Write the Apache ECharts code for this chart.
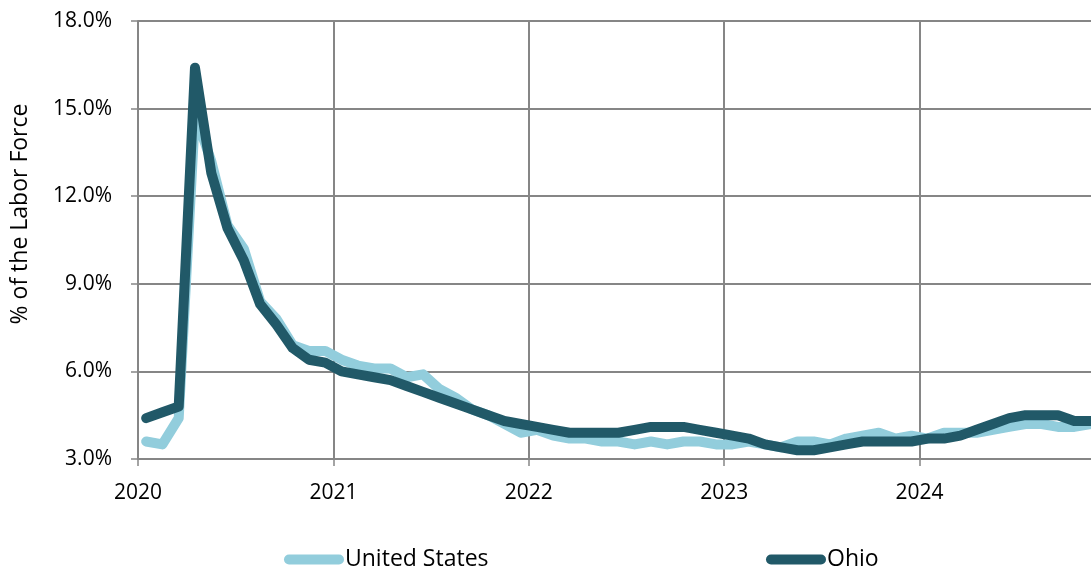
<!DOCTYPE html>
<html>
<head>
<meta charset="utf-8">
<script src="https://cdn.jsdelivr.net/npm/echarts@6/dist/echarts.min.js"></script>
<style>
  html, body { margin: 0; padding: 0; background: #fff; overflow: hidden; }
  /* the plot runs past the right side of the view, through the end of 2024 */
  #chart { width: 1118px; height: 572px; }
</style>
</head>
<body>
<div id="chart"></div>
<script>
// Monthly unemployment rate, January 2020 onward (% of the labor force)
const months = [
  '2020-01','2020-02','2020-03','2020-04','2020-05','2020-06','2020-07','2020-08','2020-09','2020-10','2020-11','2020-12',
  '2021-01','2021-02','2021-03','2021-04','2021-05','2021-06','2021-07','2021-08','2021-09','2021-10','2021-11','2021-12',
  '2022-01','2022-02','2022-03','2022-04','2022-05','2022-06','2022-07','2022-08','2022-09','2022-10','2022-11','2022-12',
  '2023-01','2023-02','2023-03','2023-04','2023-05','2023-06','2023-07','2023-08','2023-09','2023-10','2023-11','2023-12',
  '2024-01','2024-02','2024-03','2024-04','2024-05','2024-06','2024-07','2024-08','2024-09','2024-10','2024-11'
];

const unitedStates = [
  3.6, 3.5, 4.4, 14.8, 13.2, 11.0, 10.2, 8.4, 7.8, 6.9, 6.7, 6.7,
  6.4, 6.2, 6.1, 6.1, 5.8, 5.9, 5.4, 5.1, 4.7, 4.5, 4.2, 3.9,
  4.0, 3.8, 3.7, 3.7, 3.6, 3.6, 3.5, 3.6, 3.5, 3.6, 3.6, 3.5,
  3.5, 3.6, 3.5, 3.4, 3.6, 3.6, 3.5, 3.7, 3.8, 3.9, 3.7, 3.8,
  3.7, 3.9, 3.9, 3.9, 4.0, 4.1, 4.2, 4.2, 4.1, 4.1, 4.2
];

const ohio = [
  4.4, 4.6, 4.8, 16.4, 12.8, 10.9, 9.8, 8.3, 7.6, 6.8, 6.4, 6.3,
  6.0, 5.9, 5.8, 5.7, 5.5, 5.3, 5.1, 4.9, 4.7, 4.5, 4.3, 4.2,
  4.1, 4.0, 3.9, 3.9, 3.9, 3.9, 4.0, 4.1, 4.1, 4.1, 4.0, 3.9,
  3.8, 3.7, 3.5, 3.4, 3.3, 3.3, 3.4, 3.5, 3.6, 3.6, 3.6, 3.6,
  3.7, 3.7, 3.8, 4.0, 4.2, 4.4, 4.5, 4.5, 4.5, 4.3, 4.3
];

const yearTicks = ['2020', '2021', '2022', '2023', '2024'];
const yTicks = [3, 6, 9, 12, 15, 18];
const yTitle = '% of the Labor Force';

const US_COLOR = '#92CDDC';
const OH_COLOR = '#215968';
const GRID_GRAY = '#868686';
const FONT = "'Open Sans', sans-serif";

// Each month sits in the middle of its slot on a month-indexed axis
const toPoints = vals => vals.map((v, i) => [i + 0.5, v]);

const capsule = 'path://M5,0 L55,0 A5,5 0 0 1 55,10 L5,10 A5,5 0 0 1 5,0 Z';

const chart = echarts.init(document.getElementById('chart'), null, { renderer: 'canvas' });

chart.setOption({
  animation: false,
  backgroundColor: '#ffffff',
  grid: { left: 138, top: 21, bottom: 113, right: 0, containLabel: false },
  xAxis: {
    type: 'value',
    min: 0,
    max: 60,
    interval: 12,
    axisLine: { show: true, lineStyle: { color: GRID_GRAY, width: 2 } },
    axisTick: { show: true, length: 7, lineStyle: { color: GRID_GRAY, width: 1.5 } },
    splitLine: { show: true, lineStyle: { color: GRID_GRAY, width: 2 } },
    axisLabel: {
      margin: 24,
      fontSize: 21,
      fontFamily: FONT,
      color: '#000',
      formatter: v => {
        const k = Math.round(v / 12);
        return (v % 12 === 0 && yearTicks[k]) ? yearTicks[k] : '';
      }
    }
  },
  yAxis: {
    type: 'value',
    min: yTicks[0],
    max: yTicks[yTicks.length - 1],
    interval: 3,
    axisLine: { show: true, lineStyle: { color: GRID_GRAY, width: 2 } },
    axisTick: { show: true, length: 7, lineStyle: { color: GRID_GRAY, width: 1.5 } },
    splitLine: { show: true, lineStyle: { color: GRID_GRAY, width: 2 } },
    axisLabel: {
      margin: 26,
      fontSize: 21,
      fontFamily: FONT,
      color: '#000',
      formatter: v => v.toFixed(1) + '%'
    }
  },
  graphic: [
    {
      type: 'text',
      x: 20,
      y: 214,
      rotation: Math.PI / 2,
      style: {
        text: yTitle,
        fontSize: 23,
        fontFamily: FONT,
        fill: '#000',
        align: 'center',
        verticalAlign: 'middle'
      }
    }
  ],
  legend: [
    {
      data: ['United States'],
      left: 279, top: 543,
      icon: capsule, itemWidth: 60, itemHeight: 10,
      textStyle: { fontSize: 23, fontFamily: FONT, color: '#000', padding: [0, 0, 0, -4] }
    },
    {
      data: ['Ohio'],
      left: 761, top: 543,
      icon: capsule, itemWidth: 60, itemHeight: 10,
      textStyle: { fontSize: 23, fontFamily: FONT, color: '#000', padding: [0, 0, 0, -4] }
    }
  ],
  series: [
    {
      name: 'United States',
      type: 'line',
      data: toPoints(unitedStates),
      showSymbol: false,
      symbol: 'none',
      color: US_COLOR,
      lineStyle: { color: US_COLOR, width: 10, cap: 'round', join: 'round' },
      z: 2
    },
    {
      name: 'Ohio',
      type: 'line',
      data: toPoints(ohio),
      showSymbol: false,
      symbol: 'none',
      color: OH_COLOR,
      lineStyle: { color: OH_COLOR, width: 10, cap: 'round', join: 'round' },
      z: 3
    }
  ]
});
</script>
</body>
</html>
